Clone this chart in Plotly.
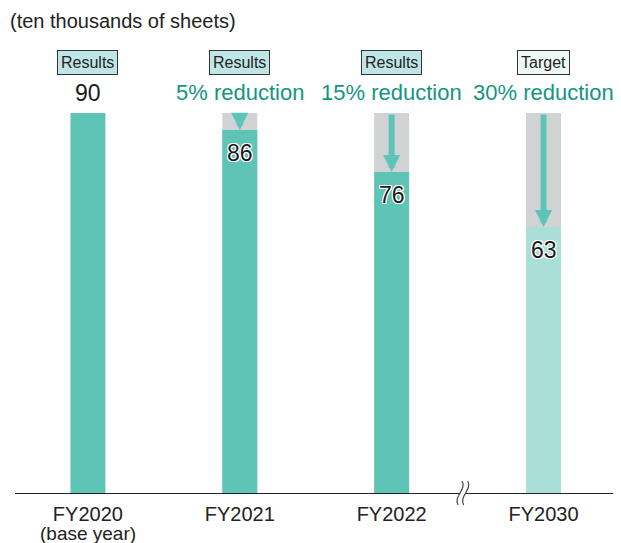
import plotly.graph_objects as go

# ---- data ----
categories = ["FY2020", "FY2021", "FY2022", "FY2030"]
tick_labels = ["FY2020", "FY2021", "FY2022", "FY2030"]
base_year_note = "(base year)"
values = [90, 86, 76, 63]
base_value = 90
status_labels = ["Results", "Results", "Results", "Target"]
reduction_labels = ["", "5% reduction", "15% reduction", "30% reduction"]
unit_label = "(ten thousands of sheets)"

TEAL = "#5ec4b6"
LIGHT = "#aadfd8"
GRAY = "#d1d2d4"
TEXT_TEAL = "#13967f"
BAR_W = 0.23

bar_colors = [LIGHT if s == "Target" else TEAL for s in status_labels]
bg_values = [None if i == 0 else base_value for i in range(len(categories))]

fig = go.Figure()
fig.add_trace(go.Bar(x=categories, y=bg_values, marker=dict(color=GRAY, line=dict(width=0)),
                     width=BAR_W, hoverinfo="skip", showlegend=False))
fig.add_trace(go.Bar(x=categories, y=values, marker=dict(color=bar_colors, line=dict(width=0)),
                     width=BAR_W, showlegend=False))

outline = "-1px -1px 0 #fff, 1px -1px 0 #fff, -1px 1px 0 #fff, 1px 1px 0 #fff, 0 1px 0 #fff, 0 -1px 0 #fff, 1px 0 0 #fff, -1px 0 0 #fff"
SANS = "Liberation Sans, Arial, sans-serif"

for i, (cat, v) in enumerate(zip(categories, values)):
    is_target = status_labels[i] == "Target"
    fig.add_annotation(x=cat, y=1.134, xref="x", yref="paper", text=status_labels[i],
                       showarrow=False, font=dict(family=SANS, size=16, color="#222"),
                       bgcolor="#eef8f6" if is_target else "#bfe5e7",
                       bordercolor="#333", borderwidth=1, borderpad=3,
                       xanchor="center", yanchor="middle")
    if i == 0:
        fig.add_annotation(x=cat, y=v, xref="x", yref="y", text=str(v), showarrow=False,
                           font=dict(family=SANS, size=23, color="#1a1a1a"),
                           yanchor="bottom", yshift=5)
    else:
        fig.add_annotation(x=cat, y=1.053, xref="x", yref="paper", text=reduction_labels[i],
                           showarrow=False, font=dict(family=SANS, size=22, color=TEXT_TEAL),
                           xanchor="center", yanchor="middle")
        fig.add_annotation(x=cat, y=v, xref="x", yref="y", ax=cat, ay=base_value,
                           axref="x", ayref="y", text="", showarrow=True,
                           arrowhead=2, arrowsize=0.57, arrowwidth=6, arrowcolor=TEAL)
        fig.add_annotation(x=cat, y=v, xref="x", yref="y", text=str(v), showarrow=False,
                           font=dict(family=SANS, size=23, color="#1a1a1a", shadow=outline),
                           yanchor="top", yshift=-8)

fig.add_annotation(x=categories[0], y=-0.106, xref="x", yref="paper", text=base_year_note,
                   showarrow=False, xanchor="center", yanchor="middle",
                   font=dict(family=SANS, size=19, color="#222"))

fig.add_annotation(x=-0.012, y=1.243, xref="paper", yref="paper", text=unit_label,
                   showarrow=False, xanchor="left", yanchor="middle",
                   font=dict(family=SANS, size=20, color="#222"))

# axis break symbol between FY2022 and FY2030 (paper-referenced so it is not clipped)
brk_x = 0.739
fig.add_shape(type="rect", xref="paper", yref="paper", xsizemode="pixel", ysizemode="pixel",
              xanchor=brk_x, yanchor=0, x0=-2.5, x1=2.5, y0=-3, y1=3,
              fillcolor="white", line=dict(width=0), layer="above")
for dx in (-2.8, 2.8):
    fig.add_shape(type="path", xref="paper", yref="paper", xsizemode="pixel", ysizemode="pixel",
                  xanchor=brk_x, yanchor=0,
                  path=f"M {dx+2},12 C {dx+7},4 {dx-7},-4 {dx-2},-12",
                  line=dict(color="#444", width=1.2), layer="above")

fig.update_layout(
    width=613, height=535,
    margin=dict(l=7, r=0, t=105, b=50),
    paper_bgcolor="white", plot_bgcolor="white",
    barmode="overlay",
    xaxis=dict(type="category", categoryorder="array", categoryarray=categories,
               tickmode="array", tickvals=categories, ticktext=tick_labels,
               range=[-0.48, 3.51], showline=True, linecolor="#222", linewidth=1,
               ticks="", showgrid=False, zeroline=False, automargin=False,
               ticklabelstandoff=3,
               tickfont=dict(family=SANS, size=20, color="#222")),
    yaxis=dict(range=[0, 90], visible=False, showgrid=False, zeroline=False, fixedrange=True),
    showlegend=False,
)

fig.write_html("out.html")
